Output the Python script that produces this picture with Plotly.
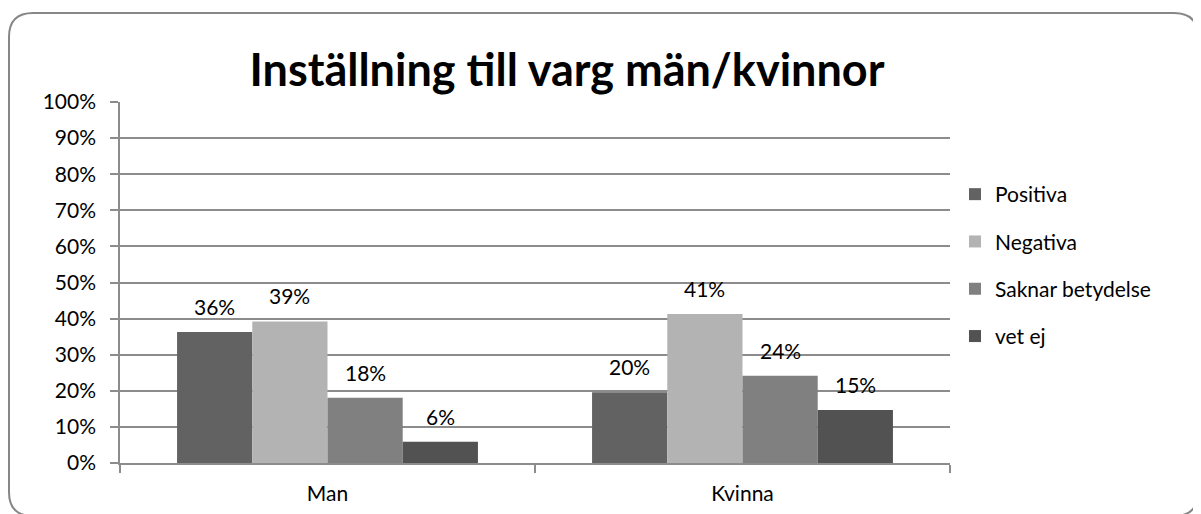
import plotly.graph_objects as go

categories = ["Man", "Kvinna"]
series_names = ["Positiva", "Negativa", "Saknar betydelse", "vet ej"]
positiva = [0.363, 0.196]
negativa = [0.392, 0.413]
saknar = [0.181, 0.242]
vet_ej = [0.059, 0.147]
y_ticks = [0, 0.1, 0.2, 0.3, 0.4, 0.5, 0.6, 0.7, 0.8, 0.9, 1.0]
title_text = "Inställning till varg män/kvinnor"

series_values = [positiva, negativa, saknar, vet_ej]
colors = ["#626262", "#b3b3b3", "#808080", "#525252"]

OFF = 8  # page body margin
W, H = 1201 - OFF, 514 - OFF
ML, MR, MT, MB = 120 - OFF, 251, 102 - OFF, 51
PW = W - ML - MR
PH = H - MT - MB
FONT = "Lato, 'Noto Sans', sans-serif"
BARGAP = 0.275


def px_x(x):  # page pixel -> paper
    return (x - OFF - ML) / PW


def px_y(y):
    return (H - MB - (y - OFF)) / PH


fig = go.Figure()
for i, (name, vals) in enumerate(zip(series_names, series_values)):
    fig.add_trace(go.Bar(
        x=categories, y=vals, name=name,
        marker=dict(color=colors[i], line=dict(width=0)),
        legendgroup=name,
    ))

# data labels
cat_px = PW / len(categories)
bar_px = cat_px * (1 - BARGAP) / len(series_names)
annotations = []
for i, vals in enumerate(series_values):
    shift = (i - (len(series_names) - 1) / 2) * bar_px
    for c, v in zip(categories, vals):
        annotations.append(dict(
            x=c, y=v, xref="x", yref="y", text=f"{round(v * 100)}%",
            showarrow=False, xshift=shift, yshift=11, yanchor="bottom",
            font=dict(size=21, family=FONT, color="#000000"),
        ))

# rounded border
L, T, R, B, r = 9, 13, 1198, 516, 24
path = (
    f"M {px_x(L + r)},{px_y(T)} L {px_x(R - r)},{px_y(T)} "
    f"Q {px_x(R)},{px_y(T)} {px_x(R)},{px_y(T + r)} "
    f"L {px_x(R)},{px_y(B - r)} Q {px_x(R)},{px_y(B)} {px_x(R - r)},{px_y(B)} "
    f"L {px_x(L + r)},{px_y(B)} Q {px_x(L)},{px_y(B)} {px_x(L)},{px_y(B - r)} "
    f"L {px_x(L)},{px_y(T + r)} Q {px_x(L)},{px_y(T)} {px_x(L + r)},{px_y(T)} Z"
)

fig.update_layout(
    width=W, height=H,
    margin=dict(l=ML, r=MR, t=MT, b=MB, autoexpand=False),
    paper_bgcolor="white", plot_bgcolor="white",
    barmode="group", bargap=BARGAP, bargroupgap=0,
    font=dict(family=FONT, size=21, color="#000000"),
    title=dict(text=f"<b>{title_text}</b>", font=dict(size=45, family=FONT, color="#000000"),
               x=px_x(567), xref="paper", xanchor="center",
               y=1 - (70 - OFF) / H, yref="container", yanchor="middle"),
    legend=dict(x=px_x(955), xanchor="left", y=px_y(174), yanchor="top",
                font=dict(size=21, family=FONT), tracegroupgap=17,
                traceorder="grouped", bgcolor="rgba(0,0,0,0)"),
    annotations=annotations,
    shapes=[dict(type="path", path=path, xref="paper", yref="paper",
                 line=dict(color="#878787", width=2), fillcolor="rgba(0,0,0,0)", layer="above")],
)
fig.update_yaxes(range=[0, 1], tickvals=y_ticks, tickformat=".0%",
                 showgrid=True, gridcolor="#8c8c8c", gridwidth=1.5,
                 showline=True, linecolor="#8c8c8c", linewidth=1.5,
                 ticks="outside", ticklen=8, tickcolor="#8c8c8c", tickwidth=1.5,
                 tickfont=dict(size=21), ticklabelstandoff=10, zeroline=False,
                 automargin=False)
fig.update_xaxes(showline=True, linecolor="#8c8c8c", linewidth=1.5,
                 ticks="outside", tickson="boundaries", ticklen=8,
                 tickcolor="#8c8c8c", tickwidth=1.5, tickfont=dict(size=21),
                 ticklabelstandoff=11, showgrid=False, automargin=False)

fig.write_html("out.html")
